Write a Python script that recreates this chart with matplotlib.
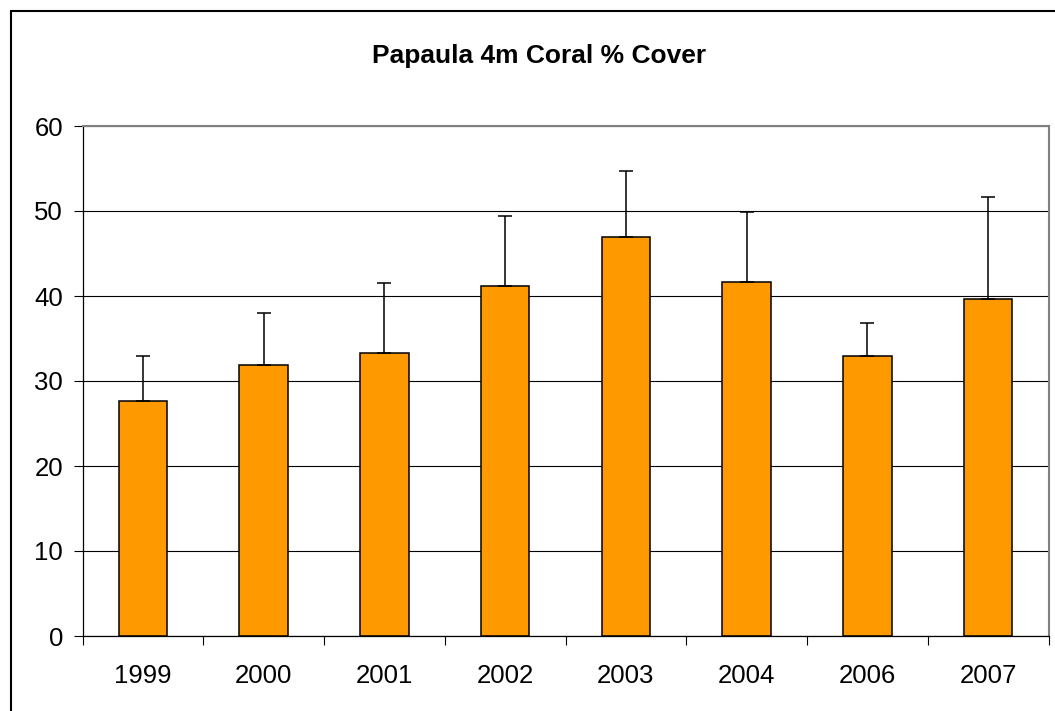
import numpy as np
import matplotlib
matplotlib.use('Agg')
import matplotlib.pyplot as plt
from matplotlib.patches import Rectangle

plt.rcParams['font.family'] = ['Liberation Sans', 'DejaVu Sans']

years = ['1999', '2000', '2001', '2002', '2003', '2004', '2006', '2007']
cover = [27.7, 31.9, 33.3, 41.2, 47.0, 41.7, 33.0, 39.6]
upper = [32.9, 38.0, 41.5, 49.4, 54.7, 49.9, 36.8, 51.7]
err = [u - c for u, c in zip(upper, cover)]

W, H = 1055, 711
fig = plt.figure(figsize=(W/100.0, H/100.0), dpi=100)
ax = fig.add_axes([82.5/W, 1 - 636/H, (1048.5 - 82.5)/W, (636 - 126)/H])

x = np.arange(len(years))
ax.set_axisbelow(True)
ax.yaxis.grid(True, color='black', linewidth=0.8)
ax.bar(x, cover, width=0.4, color='#FF9900', edgecolor='black', linewidth=1.1, zorder=2)
ax.errorbar(x, cover, yerr=[np.zeros(len(err)), err], fmt='none', ecolor='black',
            elinewidth=1.1, capsize=5, capthick=1.1, zorder=3)

ax.set_xlim(-0.5, len(years) - 0.5)
ax.set_ylim(0, 60)
ax.set_yticks(range(0, 61, 10))
ax.set_xticks(x)
ax.set_xticklabels(years)
ax.set_xticks(np.arange(-0.5, len(years), 1.0), minor=True)
ax.tick_params(axis='x', which='major', length=0, pad=20, labelsize=18.5)
ax.tick_params(axis='x', which='minor', length=6.5, width=0.8, direction='out')
ax.tick_params(axis='y', length=6.5, width=0.8, pad=7.5, labelsize=18.5)

for s in ['left', 'bottom']:
    ax.spines[s].set_color('black')
    ax.spines[s].set_linewidth(0.9)
for s in ['top', 'right']:
    ax.spines[s].set_color('#808080')
    ax.spines[s].set_linewidth(1.5)

fig.text(539/W, 1 - 63.5/H, 'Papaula 4m Coral % Cover', ha='center', va='baseline',
         fontsize=19, fontweight='bold')

# chart area border (runs off the right and bottom edge)
fig.patches.append(Rectangle((11/W, -0.1), 2.0, (H - 11)/H + 0.1, transform=fig.transFigure,
                             fill=False, edgecolor='black', linewidth=1.5))

fig.savefig('out.png', dpi=100)
